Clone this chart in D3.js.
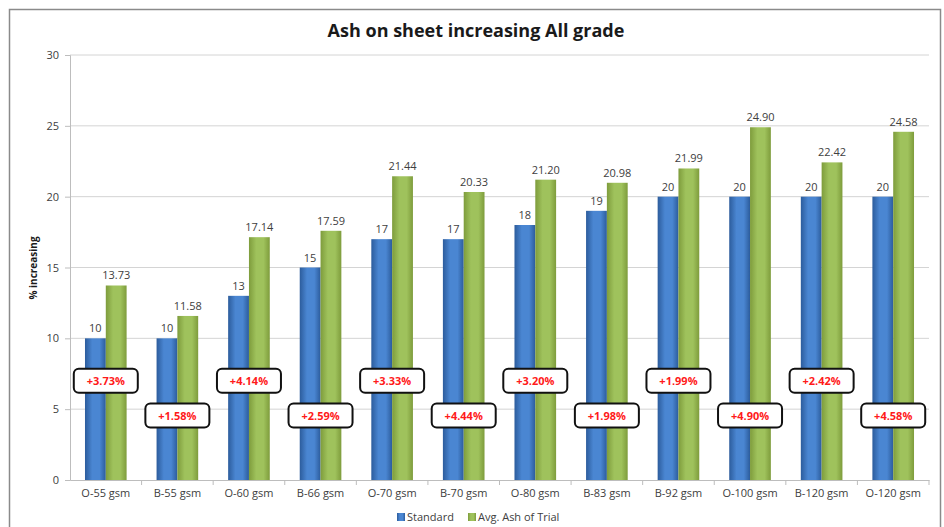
<!DOCTYPE html>
<html>
<head>
<meta charset="utf-8">
<script src="https://cdn.jsdelivr.net/npm/d3@7"></script>
<style>
  body { margin: 0; background: #fff; }
  text { font-family: "Open Sans", "Liberation Sans", sans-serif; }
</style>
</head>
<body>
<script>
// Chart data
var grades = ["O-55 gsm", "B-55 gsm", "O-60 gsm", "B-66 gsm", "O-70 gsm", "B-70 gsm",
  "O-80 gsm", "B-83 gsm", "B-92 gsm", "O-100 gsm", "B-120 gsm", "O-120 gsm"];
var standard = [10, 10, 13, 15, 17, 17, 18, 19, 20, 20, 20, 20];
var trial = [13.73, 11.58, 17.14, 17.59, 21.44, 20.33, 21.20, 20.98, 21.99, 24.90, 22.42, 24.58];
var increase = ["+3.73%", "+1.58%", "+4.14%", "+2.59%", "+3.33%", "+4.44%",
  "+3.20%", "+1.98%", "+1.99%", "+4.90%", "+2.42%", "+4.58%"];
var seriesNames = ["Standard", "Avg. Ash of Trial"];
var yTicks = [0, 5, 10, 15, 20, 25, 30];

// SVG area
var svgWidth = 944;
var svgHeight = 527;

var chartMargin = { top: 55, right: 15, bottom: 47, left: 70 };
var chartWidth = 929 - chartMargin.left;
var chartHeight = svgHeight - chartMargin.top - chartMargin.bottom;

var svg = d3.select("body")
  .append("svg")
  .attr("width", svgWidth)
  .attr("height", svgHeight);

// gradients for the Excel-ish bevelled bars
var defs = svg.append("defs");
function addGrad(id, edge, mid) {
  var g = defs.append("linearGradient").attr("id", id)
    .attr("x1", "0%").attr("x2", "100%").attr("y1", "0%").attr("y2", "0%");
  g.append("stop").attr("offset", "0%").attr("stop-color", edge);
  g.append("stop").attr("offset", "35%").attr("stop-color", mid);
  g.append("stop").attr("offset", "70%").attr("stop-color", mid);
  g.append("stop").attr("offset", "100%").attr("stop-color", edge);
}
addGrad("gBlue", "#2c5c9c", "#4a86d2");
addGrad("gGreen", "#7e9c3c", "#9fc25c");

// outer frame
svg.append("rect")
  .attr("x", 9.5).attr("y", 9.5)
  .attr("width", 931).attr("height", 540)
  .attr("fill", "none")
  .attr("stroke", "#8a8a8a")
  .attr("stroke-width", 1.5);

var chartGroup = svg.append("g")
  .attr("transform", `translate(${chartMargin.left}, ${chartMargin.top})`);

var xBandScale = d3.scaleBand()
  .domain(grades)
  .range([0, chartWidth]);

var xInner = d3.scaleBand()
  .domain(seriesNames)
  .range([0, xBandScale.bandwidth()])
  .paddingOuter(0.72)
  .paddingInner(0);

var yLinearScale = d3.scaleLinear()
  .domain([0, 30])
  .range([chartHeight, 0]);

// gridlines
chartGroup.append("g")
  .selectAll("line")
  .data(yTicks.filter(d => d > 0))
  .enter()
  .append("line")
  .attr("x1", 0).attr("x2", chartWidth)
  .attr("y1", d => yLinearScale(d)).attr("y2", d => yLinearScale(d))
  .attr("stroke", "#d4d4d4")
  .attr("stroke-width", 1);

// axes
var leftAxis = d3.axisLeft(yLinearScale).tickValues(yTicks).tickSize(5).tickPadding(6);
var bottomAxis = d3.axisBottom(xBandScale).tickSize(0).tickPadding(9);

var yAxisG = chartGroup.append("g").call(leftAxis);
yAxisG.select(".domain").attr("stroke", "#bdbdbd");
yAxisG.selectAll(".tick line").attr("stroke", "#bdbdbd");
yAxisG.selectAll(".tick text")
  .attr("fill", "#404040")
  .style("font-size", "11px");

var xAxisG = chartGroup.append("g")
  .attr("transform", `translate(0, ${chartHeight})`)
  .call(bottomAxis);
xAxisG.select(".domain").attr("stroke", "#bdbdbd");
xAxisG.selectAll(".tick text")
  .attr("fill", "#404040")
  .style("font-size", "11px");

// category separators under the axis
chartGroup.append("g")
  .selectAll("line")
  .data(grades.slice(1).concat(["end"]))
  .enter()
  .append("line")
  .attr("x1", (d, i) => xBandScale.step() * (i + 1))
  .attr("x2", (d, i) => xBandScale.step() * (i + 1))
  .attr("y1", chartHeight).attr("y2", chartHeight + 5)
  .attr("stroke", "#bdbdbd");

// bars
var rows = grades.map((g, i) => ({ grade: g, values: [standard[i], trial[i]], inc: increase[i], i: i }));

var groups = chartGroup.selectAll(".grp")
  .data(rows)
  .enter()
  .append("g")
  .attr("class", "grp")
  .attr("transform", d => `translate(${xBandScale(d.grade)},0)`);

groups.selectAll("rect.bar")
  .data(d => d.values.map((v, k) => ({ key: seriesNames[k], value: v, k: k })))
  .enter()
  .append("rect")
  .attr("class", "bar")
  .attr("x", d => xInner(d.key))
  .attr("y", d => yLinearScale(d.value))
  .attr("width", xInner.bandwidth())
  .attr("height", d => chartHeight - yLinearScale(d.value))
  .attr("fill", d => d.k === 0 ? "url(#gBlue)" : "url(#gGreen)");

// value labels
groups.selectAll("text.val")
  .data(d => d.values.map((v, k) => ({ key: seriesNames[k], value: v, k: k })))
  .enter()
  .append("text")
  .attr("class", "val")
  .attr("x", d => xInner(d.key) + xInner.bandwidth() / 2)
  .attr("y", d => yLinearScale(d.value) - 6)
  .attr("text-anchor", "middle")
  .attr("fill", "#404040")
  .style("font-size", "11px")
  .text(d => d.k === 0 ? d3.format("d")(d.value) : d3.format(".2f")(d.value));

// increase callout boxes (alternating heights)
var boxW = 64, boxH = 24;
var callout = groups.append("g")
  .attr("transform", d => `translate(${xBandScale.bandwidth() / 2}, ${yLinearScale(d.i % 2 === 0 ? 7.0 : 4.55)})`);

callout.append("rect")
  .attr("x", -boxW / 2).attr("y", -boxH / 2)
  .attr("width", boxW).attr("height", boxH)
  .attr("rx", 5)
  .attr("fill", "#fff")
  .attr("stroke", "#111")
  .attr("stroke-width", 2);

callout.append("text")
  .attr("text-anchor", "middle")
  .attr("dy", "0.36em")
  .attr("fill", "#ff1a1a")
  .style("font-size", "11px")
  .style("font-weight", "bold")
  .text(d => d.inc);

// title
svg.append("text")
  .attr("x", 476)
  .attr("y", 37)
  .attr("text-anchor", "middle")
  .attr("fill", "#1a1a1a")
  .style("font-size", "18px")
  .style("font-weight", "bold")
  .text("Ash on sheet increasing All grade");

// y axis title
svg.append("text")
  .attr("transform", "translate(37, 268) rotate(-90)")
  .attr("text-anchor", "middle")
  .attr("fill", "#1a1a1a")
  .style("font-size", "10px")
  .style("font-weight", "bold")
  .text("% increasing");

// legend
var legend = svg.append("g").attr("transform", "translate(397, 517)");
var legendX = [0, 71];
seriesNames.forEach(function(name, k) {
  var item = legend.append("g").attr("transform", `translate(${legendX[k]}, 0)`);
  item.append("rect")
    .attr("x", 0).attr("y", -4)
    .attr("width", 8).attr("height", 8)
    .attr("fill", k === 0 ? "url(#gBlue)" : "url(#gGreen)");
  item.append("text")
    .attr("x", 10).attr("dy", "0.35em")
    .attr("fill", "#404040")
    .style("font-size", "11px")
    .text(name);
});
</script>
</body>
</html>
